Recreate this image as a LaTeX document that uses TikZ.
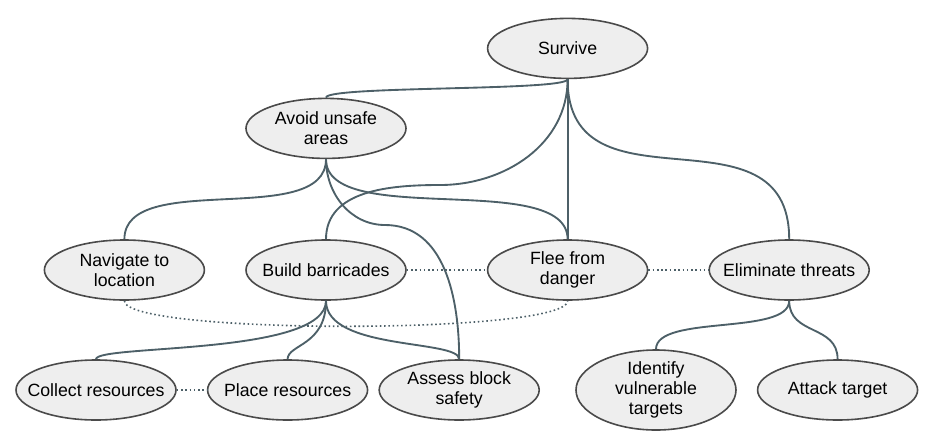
\documentclass[tikz,border=0pt]{standalone}
\usepackage{fontspec}
\setmainfont{Liberation Sans}
\usepackage{tikz}
\usetikzlibrary{shapes.geometric,positioning}
\definecolor{edgec}{HTML}{4D6068}
\definecolor{borderc}{HTML}{4A4A4A}
\definecolor{fillc}{HTML}{EEEEEE}

\begin{document}
\begin{tikzpicture}[
  x=0.75pt, y=-0.75pt,
  node distance=30pt and 30pt,
  goal/.style={draw=borderc,fill=fillc,ellipse,line width=1.2pt,
    minimum width=120pt,minimum height=45pt,inner xsep=-40pt,inner ysep=-5pt,
    align=center,font=\fontsize{13.3pt}{15pt}\selectfont},
  tall/.style={minimum height=60pt},
  link/.style={draw=edgec,line width=1.4pt},
  alt/.style={draw=edgec,line width=1.2pt,dotted}
]
\useasboundingbox (0,0) rectangle (926,437);
\node[goal] (build) at (326,270) {Build barricades};
\node[goal, left=30pt of build] (nav) {Navigate to\\location};
\node[goal, right=60pt of build] (flee) {Flee from\\danger};
\node[goal, right=45pt of flee] (elim) {Eliminate threats};
\node[goal, above=60pt of build] (avoid) {Avoid unsafe\\areas};
\node[goal, above=120pt of flee] (survive) {Survive};
\node[goal] (collect) at (96,390) {Collect resources};
\node[goal, right=22.5pt of collect] (place) {Place resources};
\node[goal, right=7.5pt of place] (assess) {Assess block\\safety};
\node[goal,tall] (ident) at (656,390) {Identify\\vulnerable\\targets};
\node[goal, right=15pt of ident] (attack) {Attack target};

% decomposition links
\path[link] (survive.south) .. controls +(0,12) and +(0,-12) .. (avoid.north);
\path[link] (survive.south) to[out=-90,in=0] (440,185) to[out=180,in=90] (build.north);
\path[link] (survive.south) -- (flee.north);
\path[link] (survive.south) .. controls +(0,140) and +(0,-140) .. (elim.north);
\path[link] (avoid.south) .. controls +(0,70) and +(0,-70) .. (nav.north);
\path[link] (avoid.south) .. controls +(0,70) and +(0,-70) .. (flee.north);
\path[link] (avoid.south) to[out=-90,in=180] (385,225) to[out=0,in=90] (assess.north);
\path[link] (build.south) .. controls +(0,55) and +(0,-15) .. (collect.north);
\path[link] (build.south) .. controls +(0,45) and +(0,-15) .. (place.north);
\path[link] (build.south) .. controls +(0,50) and +(0,-20) .. (assess.north);
\path[link] (elim.south) .. controls +(0,35) and +(0,-35) .. (ident.north);
\path[link] (elim.south) .. controls +(0,35) and +(0,-35) .. (attack.north);

% alternatives
\path[alt] (build) -- (flee);
\path[alt] (flee) -- (elim);
\path[alt] (collect) -- (place);
\path[alt] (nav.south) .. controls +(0,34) and +(0,34) .. (flee.south);
\end{tikzpicture}
\end{document}
